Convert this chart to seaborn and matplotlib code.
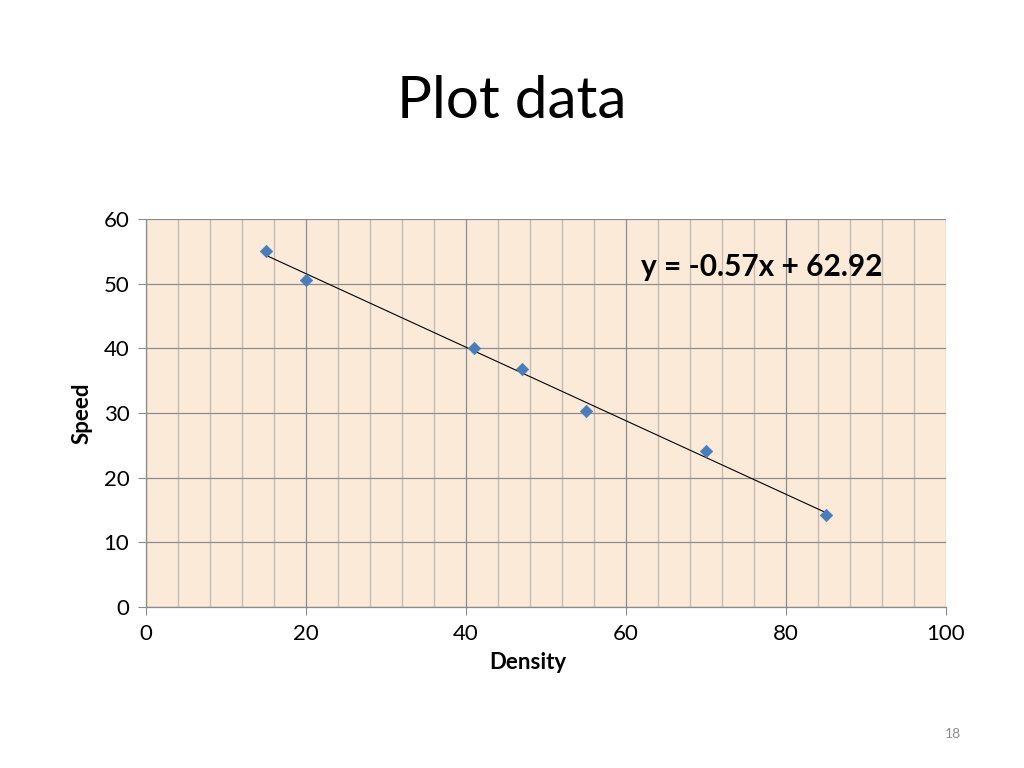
import numpy as np
import pandas as pd
import seaborn as sns
import matplotlib.pyplot as plt
from matplotlib.ticker import MultipleLocator

# Data
density = [15, 20, 41, 47, 55, 70, 85]
speed = [55.0, 50.6, 40.1, 36.8, 30.3, 24.1, 14.2]
x_ticks = [0, 20, 40, 60, 80, 100]
y_ticks = [0, 10, 20, 30, 40, 50, 60]

df = pd.DataFrame({'Density': density, 'Speed': speed})

sns.set_style('white')
plt.rcParams['font.family'] = ['Lato', 'DejaVu Sans']
plt.rcParams['text.color'] = 'black'
plt.rcParams['axes.labelcolor'] = 'black'
plt.rcParams['xtick.labelcolor'] = 'black'
plt.rcParams['ytick.labelcolor'] = 'black'

fig = plt.figure(figsize=(10.24, 7.68), dpi=100)
ax = fig.add_axes([0.1426, 0.2096, 0.7812, 0.5052])
ax.set_facecolor('#fcead9')

# grid
ax.xaxis.set_minor_locator(MultipleLocator(4))
ax.grid(which='major', color='#8c8c8c', linewidth=0.9)
ax.grid(which='minor', axis='x', color='#c4b8ae', linewidth=0.9)
ax.tick_params(which='minor', length=0)
ax.set_axisbelow(True)

sns.regplot(x='Density', y='Speed', data=df, scatter=False, ci=None,
            line_kws={'color': 'black', 'linewidth': 0.8}, ax=ax)
sns.scatterplot(x='Density', y='Speed', data=df, marker='D', s=40,
                color='#4a7ebb', edgecolor='#4a7ebb', linewidth=0.5,
                ax=ax, zorder=3)

slope, intercept = np.polyfit(density, speed, 1)
ax.text(77, 52.6, f'y = {slope:.2f}x + {intercept:.2f}', fontsize=21.5,
        fontweight='bold', ha='center', va='center')

ax.set_xlim(0, 100)
ax.set_ylim(0, 60)
ax.set_xticks(x_ticks)
ax.set_yticks(y_ticks)
ax.tick_params(which='major', direction='out', length=6, color='#8c8c8c',
               labelsize=16, pad=6, left=True, bottom=True)

for side in ['top', 'right']:
    ax.spines[side].set_visible(False)
for side in ['left', 'bottom']:
    ax.spines[side].set_color('#8c8c8c')
    ax.spines[side].set_linewidth(0.9)

ax.set_xlabel('Density', fontsize=16, fontweight='bold')
ax.set_ylabel('Speed', fontsize=16, fontweight='bold', labelpad=8)
ax.xaxis.set_label_coords(0.4775, -0.115)

fig.text(0.5, 0.868, 'Plot data', fontsize=42, ha='center', va='center')
fig.text(0.931, 0.044, '18', fontsize=10, color='#8c8c8c', ha='center', va='center')

fig.savefig('out.png', dpi=100)
